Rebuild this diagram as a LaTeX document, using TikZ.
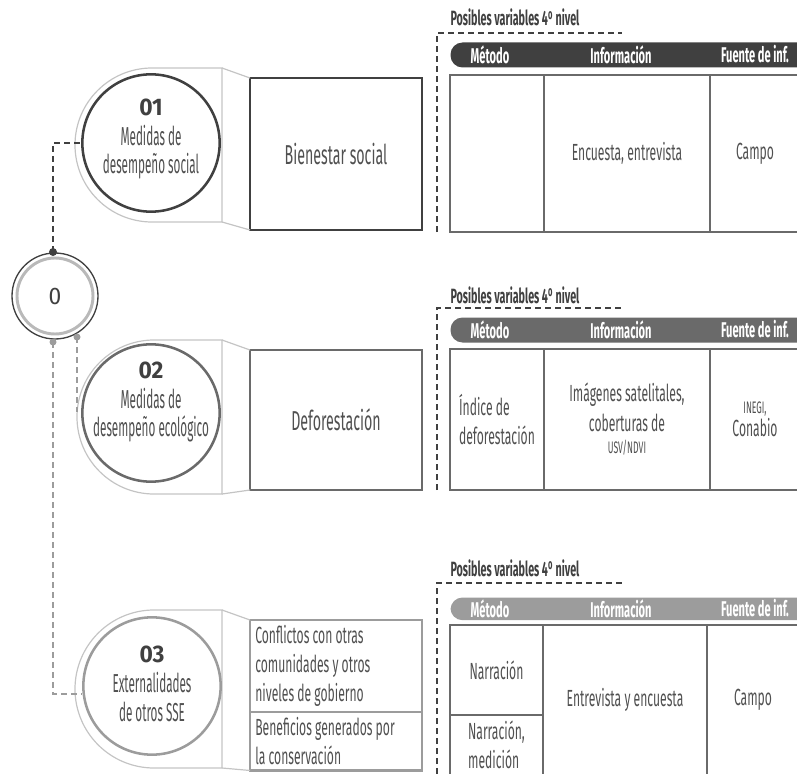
\documentclass[tikz,border=0pt]{standalone}
\usepackage{fontspec}
\setmainfont{Fira Sans}[FakeStretch=0.52]
\newfontfamily\numfont{Fira Sans}[FakeStretch=0.95]
\newfontfamily\narrowfont{Fira Sans}[FakeStretch=0.45]
\definecolor{ink}{HTML}{404040}
\definecolor{mid}{HTML}{6A6A6A}
\definecolor{pale}{HTML}{9C9C9C}
\definecolor{rimgray}{HTML}{C4C4C4}
\definecolor{txtgray}{HTML}{505050}

\tikzset{every picture/.style={line width=0.75pt}}
\tikzset{
  rim/.style={draw=rimgray, line width=0.9pt},
  ring/.style={circle, line width=1.9pt, minimum size=103pt, inner sep=0pt},
  ringtxt/.style={inner sep=0pt, align=center, text=txtgray, font=\narrowfont\fontsize{19.5}{21.5}\selectfont},
  topic/.style={rectangle, line width=1.9pt, minimum width=129pt, anchor=north west, outer sep=0pt, align=center, text=txtgray, font=\fontsize{20.5}{24}\selectfont},
  link/.style={line width=1.3pt, dash pattern=on 4.5pt off 3pt},
  frame/.style={draw=ink, line width=1pt, dash pattern=on 4.5pt off 3pt},
  lab/.style={anchor=base west, inner sep=0.75pt, text=ink, font=\bfseries\fontsize{15.5}{17}\selectfont},
  bar/.style={rectangle, rounded corners=9pt, minimum height=18.75pt, minimum width=270pt, anchor=north west, inner sep=0pt},
  headtxt/.style={text=white, inner sep=0.75pt, font=\bfseries\fontsize{16}{17}\selectfont},
  cell/.style={rectangle, draw=mid, line width=1.1pt, anchor=north west, outer sep=0pt, inner sep=2pt, align=center, text=txtgray, font=\fontsize{17.5}{22}\selectfont},
}
\newcommand{\nummark}[1]{{\numfont\bfseries\fontsize{18}{22}\selectfont\color{ink}#1}}

\begin{document}
\begin{tikzpicture}[x=0.75pt,y=0.75pt,yscale=-1,xscale=1]
\useasboundingbox (0,0) rectangle (797,774);

% Root circle
\node[circle, draw=ink, line width=1pt, minimum size=64.5pt, inner sep=0pt, text=ink, font=\numfont\fontsize{18}{20}\selectfont] (c0) at (55,296) {0};
\draw[gray!55, line width=2.2pt] (c0.center) circle (38);
\coordinate (d1) at (53,252);
\coordinate (d2) at (77,337);
\coordinate (d3) at (53,342);
\coordinate (r2w) at (77,412);

% Block 01
\draw[rim] (152,68) -- (222,68) -- (222,222) -- (152,222) arc (90:270:77);
\node[ring, draw=ink] (c1) at (151,143) {};
\node[ringtxt] (c1t) at (151,139) {\nummark{01}\\[1pt] Medidas de\\ desempeño social};
\node[topic, draw=ink, line width=2.1pt, minimum height=114pt] (b1) at (250,78) {Bienestar social};
\draw[rim] (222,68) -- (b1.north west) (222,222) -- (b1.south west);

% Block 02
\draw[rim] (154,340) -- (222,340) -- (222,494) -- (154,494) arc (90:270:77);
\node[ring, draw=mid] (c2) at (151,413) {};
\node[ringtxt] (c2t) at (151,402) {\nummark{02}\\[1pt] Medidas de\\ desempeño ecológico};
\node[topic, draw=mid, minimum height=105pt] (b2) at (250,350) {Deforestación};
\draw[rim] (222,340) -- (b2.north west) (222,494) -- (b2.south west);

% Block 03
\draw[rim] (154,610) -- (222,610) -- (222,768) -- (154,768) arc (90:270:79);
\node[ring, draw=pale] (c3) at (152,686) {};
\node[ringtxt] (c3t) at (152,684) {\nummark{03}\\[1pt] Externalidades\\ de otros SSE};
\node[topic, draw=pale, minimum height=69pt, text width=121pt, inner sep=4pt, align=flush left, font=\fontsize{17.5}{21.5}\selectfont] (b3a) at (250,620) {Conflictos con otras\\ comunidades y otros\\ niveles de gobierno};
\node[topic, draw=pale, minimum height=43.5pt, text width=121pt, inner sep=4pt, align=flush left, font=\fontsize{17.5}{22}\selectfont] (b3b) at (b3a.south west) {Beneficios generados por\\ la conservación};
\draw[rim] (222,610) -- (b3a.north west) (222,768) -- (b3b.south west);

%Dashed Lines
\draw[link, draw=ink] (d1) |- (c1.west);
\draw[link, draw=pale] (d2) -- (r2w);
\draw[link, draw=pale] (d3) |- ([yshift=6pt]c3.west);
\fill[ink] (d1) circle (4);
\fill[pale] (d2) circle (3.5);
\fill[pale] (d3) circle (3.5);

% Table 1
\node[lab] (l1) at (449,26) {Posibles variables 4\textsuperscript{o} nivel};
\draw[frame] (437,232) -- (437,33) -- (622,33);
\node[bar, fill=ink] (h1) at (450,42) {};
\node[headtxt] (h1a) at (490,54.5) {Método};
\node[headtxt] (h1b) at (621,54.5) {Información};
\node[headtxt] (h1c) at (755,54.5) {Fuente de inf.};
\node[cell, minimum width=70.5pt, minimum height=117.75pt] (t1a) at (450,75) {};
\node[cell, minimum width=124.5pt, minimum height=117.75pt] (t1b) at (t1a.north east) {Encuesta, entrevista};
\node[cell, minimum width=67.5pt, minimum height=117.75pt] (t1c) at (t1b.north east) {Campo};

% Table 2
\node[lab] (l2) at (449,303) {Posibles variables 4\textsuperscript{o} nivel};
\draw[frame] (437,490) -- (437,308) -- (622,308);
\node[bar, fill=mid] (h2) at (450,317) {};
\node[headtxt] (h2a) at (490,329.5) {Método};
\node[headtxt] (h2b) at (621,329.5) {Información};
\node[headtxt] (h2c) at (755,329.5) {Fuente de inf.};
\node[cell, minimum width=70.5pt, minimum height=105.75pt, align=flush left] (t2a) at (450,349) {Índice de\\ deforestación};
\node[cell, minimum width=124.5pt, minimum height=105.75pt] (t2b) at (t2a.north east) {Imágenes satelitales,\\ coberturas de\\[-5pt] {\fontsize{12.5}{15}\selectfont USV/NDVI}};
\node[cell, minimum width=67.5pt, minimum height=105.75pt] (t2c) at (t2b.north east) {{\fontsize{12.5}{15}\selectfont INEGI,}\\[-5pt] Conabio};

% Table 3
\node[lab] (l3) at (449,576) {Posibles variables 4\textsuperscript{o} nivel};
\draw[frame] (437,774) -- (437,583) -- (622,583);
\node[bar, fill=pale, minimum height=17pt] (h3) at (450,597) {};
\node[headtxt] (h3a) at (490,608.5) {Método};
\node[headtxt] (h3b) at (621,608.5) {Información};
\node[headtxt] (h3c) at (755,608.5) {Fuente de inf.};
\node[cell, minimum width=69.75pt, minimum height=67.5pt] (t3a) at (450,625) {Narración};
\node[cell, minimum width=69.75pt, minimum height=45pt, align=flush left] (t3d) at (t3a.south west) {Narración,\\ medición};
\node[cell, minimum width=123pt, minimum height=112.5pt] (t3b) at (t3a.north east) {Entrevista y encuesta};
\node[cell, minimum width=69pt, minimum height=112.5pt] (t3c) at (t3b.north east) {Campo};

\end{tikzpicture}
\end{document}
